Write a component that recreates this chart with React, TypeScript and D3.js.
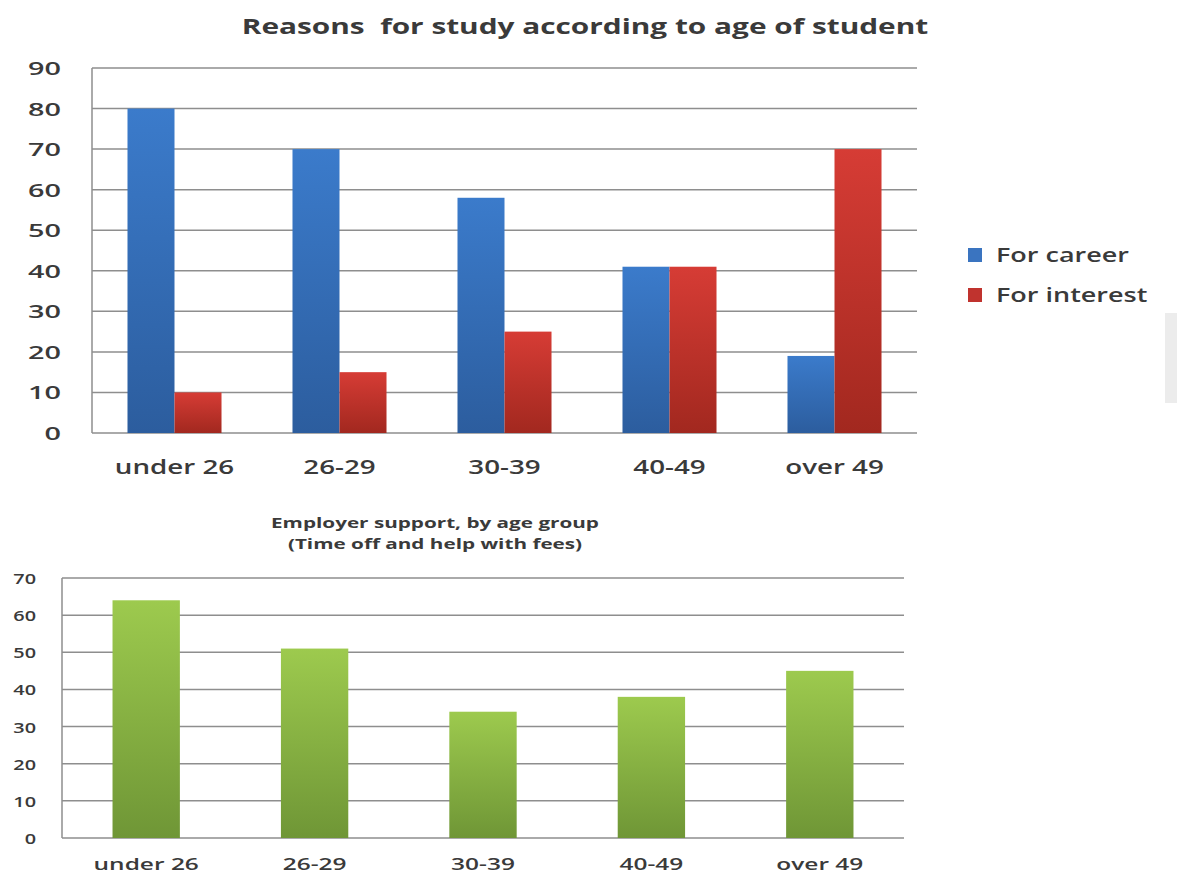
import React from "react";
import * as d3 from "d3";

const categories = ["under 26", "26-29", "30-39", "40-49", "over 49"];
const seriesNames = ["For career", "For interest"];
const careerValues = [80, 70, 58, 41, 19];
const interestValues = [10, 15, 25, 41, 70];
const supportValues = [64, 51, 34, 38, 45];
const topTicks = [0, 10, 20, 30, 40, 50, 60, 70, 80, 90];
const bottomTicks = [0, 10, 20, 30, 40, 50, 60, 70];
const topTitle = "Reasons  for study according to age of student";
const bottomTitle1 = "Employer support, by age group";
const bottomTitle2 = "(Time off and help with fees)";

const FONT = "'Open Sans', 'DejaVu Sans', sans-serif";
const TXT = "#3a3a3a";
const GRID = "#8e8e8e";

function T({ x, y, anchor = "middle", sx = 1.3, size = 18, weight = 600, children }: any) {
  return (
    <g transform={`translate(${x},${y}) scale(${sx},1)`}>
      <text
        textAnchor={anchor}
        fontSize={size}
        fontWeight={weight}
        fill={TXT}
        fontFamily={FONT}
        style={{ whiteSpace: "pre" }}
      >
        {children}
      </text>
    </g>
  );
}

export default function App() {
  // top chart
  const tx = d3.scaleBand<string>().domain(categories).range([92, 917]).paddingInner(0).paddingOuter(0);
  const tInner = d3.scaleBand<string>().domain(seriesNames).range([0, tx.bandwidth()]).paddingInner(0).paddingOuter(0.755);
  const ty = d3.scaleLinear().domain([0, 90]).range([433, 68]);
  const topSeries = [careerValues, interestValues];
  const fills = ["url(#gBlue)", "url(#gRed)"];
  const legendColors = ["#3a74c0", "#c0332e"];

  // bottom chart
  const bx = d3.scaleBand<string>().domain(categories).range([62, 904]).paddingInner(0.6).paddingOuter(0.3);
  const bxLabels = d3.scaleBand<string>().domain(categories).range([62, 904]);
  const by = d3.scaleLinear().domain([0, 70]).range([838, 578]);

  return (
    <svg width={1177} height={875} style={{ position: "absolute", left: 0, top: 0, background: "#fff" }}>
      <defs>
        <linearGradient id="gBlue" x1="0" y1="0" x2="0" y2="1">
          <stop offset="0" stopColor="#3b7bcb" />
          <stop offset="1" stopColor="#2c5d9e" />
        </linearGradient>
        <linearGradient id="gRed" x1="0" y1="0" x2="0" y2="1">
          <stop offset="0" stopColor="#d63c35" />
          <stop offset="1" stopColor="#a2281f" />
        </linearGradient>
        <linearGradient id="gGreen" x1="0" y1="0" x2="0" y2="1">
          <stop offset="0" stopColor="#9dca4e" />
          <stop offset="1" stopColor="#6f9636" />
        </linearGradient>
      </defs>
      <rect x={0} y={0} width={1177} height={875} fill="#fff" />

      {/* TOP CHART */}
      <T x={585} y={34} sx={1.42} size={21} weight={700}>{topTitle}</T>
      {topTicks.map((t) => (
        <line key={"tg" + t} x1={92} x2={917} y1={ty(t)} y2={ty(t)} stroke={GRID} strokeWidth={1.5} />
      ))}
      <line x1={92} x2={92} y1={ty(90)} y2={ty(0)} stroke={GRID} strokeWidth={1.5} />
      {topTicks.map((t) => (
        <T key={"tl" + t} x={61} y={ty(t) + 7} anchor="end" sx={1.6} size={18}>{t}</T>
      ))}
      {categories.map((c, i) =>
        topSeries.map((vals, s) => (
          <rect
            key={c + s}
            x={(tx(c) as number) + (tInner(seriesNames[s]) as number)}
            y={ty(vals[i])}
            width={tInner.bandwidth()}
            height={ty(0) - ty(vals[i])}
            fill={fills[s]}
          />
        ))
      )}
      {categories.map((c) => (
        <T key={"tx" + c} x={(tx(c) as number) + tx.bandwidth() / 2} y={474} sx={1.46} size={19}>{c}</T>
      ))}
      {/* legend */}
      {seriesNames.map((s, i) => (
        <g key={"lg" + s}>
          <rect x={968} y={248 + i * 40} width={14} height={14} fill={legendColors[i]} />
          <T x={996} y={262 + i * 40} anchor="start" sx={1.42} size={19}>{s}</T>
        </g>
      ))}
      <rect x={1165} y={313} width={12} height={90} fill="#ececec" />

      {/* BOTTOM CHART */}
      <T x={435} y={528} sx={1.38} size={15} weight={700}>{bottomTitle1}</T>
      <T x={435} y={549} sx={1.38} size={15} weight={700}>{bottomTitle2}</T>
      {bottomTicks.map((t) => (
        <line key={"bg" + t} x1={62} x2={904} y1={by(t)} y2={by(t)} stroke={GRID} strokeWidth={1.5} />
      ))}
      <line x1={62} x2={62} y1={by(70)} y2={by(0)} stroke={GRID} strokeWidth={1.5} />
      {bottomTicks.map((t) => (
        <T key={"bl" + t} x={36} y={by(t) + 6} anchor="end" sx={1.42} size={14}>{t}</T>
      ))}
      {categories.map((c, i) => (
        <rect
          key={"bb" + c}
          x={bx(c) as number}
          y={by(supportValues[i])}
          width={bx.bandwidth()}
          height={by(0) - by(supportValues[i])}
          fill="url(#gGreen)"
        />
      ))}
      {categories.map((c) => (
        <T key={"bxl" + c} x={(bxLabels(c) as number) + bxLabels.bandwidth() / 2} y={870} sx={1.44} size={17}>{c}</T>
      ))}
    </svg>
  );
}
